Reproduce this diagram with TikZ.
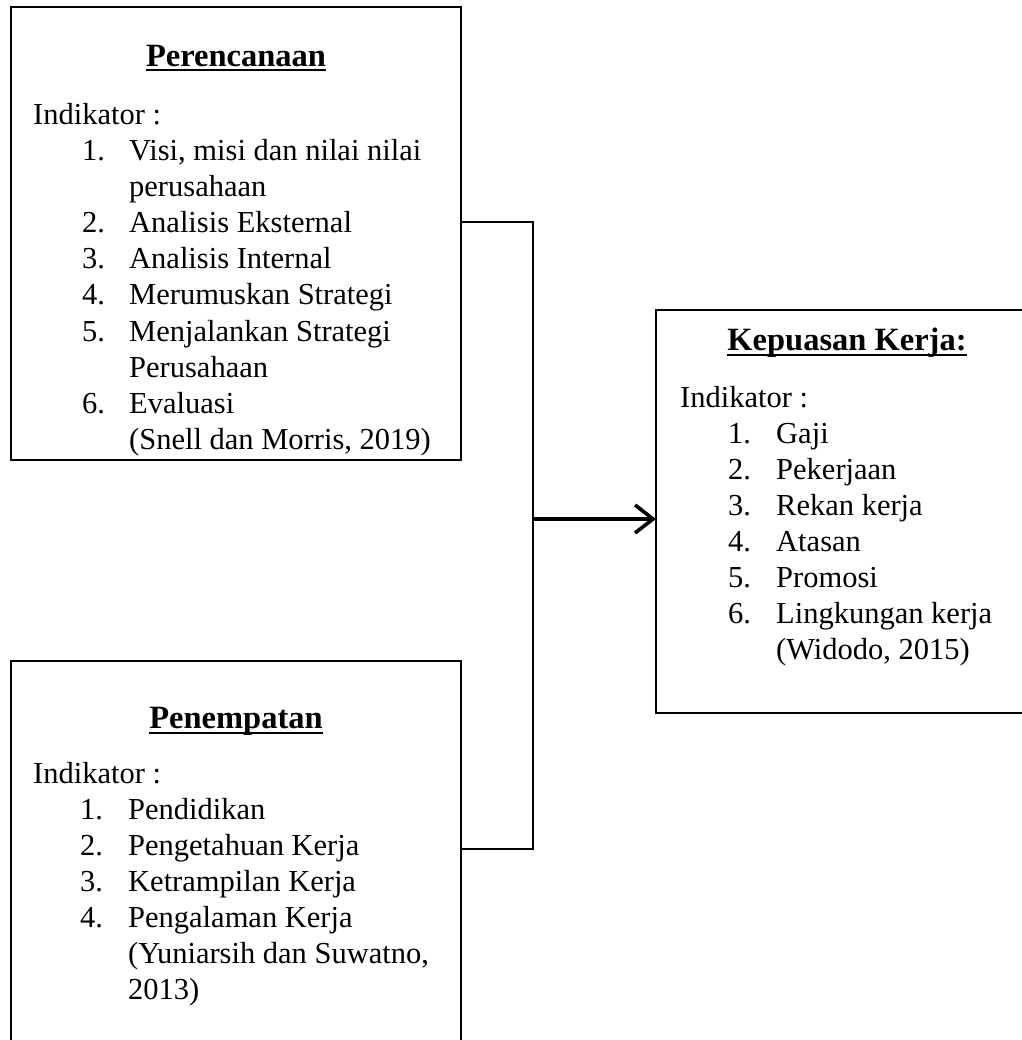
\documentclass[tikz,border=0pt]{standalone}
\usepackage{fontspec}
\setmainfont{Liberation Serif}
\usetikzlibrary{arrows.meta}
\newcommand{\bodyfnt}{\fontsize{30.5}{36}\selectfont}
\newcommand{\titlefnt}{\fontsize{32.5}{36}\selectfont\bfseries}
\tikzset{
  boxnode/.style={draw, line width=2.4pt, anchor=north west, inner sep=0pt, outer sep=0pt},
  lbl/.style={anchor=base west, inner sep=0pt, font=\bodyfnt},
  ttl/.style={anchor=base, inner sep=0pt, font=\titlefnt},
  uline/.style={line width=1.7pt},
  conn/.style={line width=2pt},
  arrowline/.style={line width=3.6pt, -{Straight Barb[length=18pt,width=28pt]}}
}
\begin{document}
\begin{tikzpicture}[x=1pt,y=-1pt]
\useasboundingbox (0,0) rectangle (1021,1040);
% boxes
\node[boxnode, minimum width=450pt, minimum height=453pt] (b1) at (11,7) {};
\node[boxnode, minimum width=450pt, minimum height=430pt] (b2) at (11,661) {};
\node[boxnode, minimum width=382pt, minimum height=403pt] (b3) at (656,310) {};
% titles
\node[ttl] (t1) at (236,67) {Perencanaan};
\draw[uline] ([yshift=-3pt]t1.base west) -- ([yshift=-3pt]t1.base east);
\node[ttl] (t2) at (236,728) {Penempatan};
\draw[uline] ([yshift=-5pt]t2.base west) -- ([yshift=-5pt]t2.base east);
\node[ttl] (t3) at (847,350) {Kepuasan Kerja:};
\draw[uline] ([yshift=-5pt]t3.base west) -- ([yshift=-5pt]t3.base east);
% box 1 text
\node[lbl] (a-ind) at (33,125) {Indikator :};
\foreach \yy/\nn/\tt in {161/1./{Visi, misi dan nilai nilai},197//perusahaan,233/2./Analisis Eksternal,269/3./Analisis Internal,305/4./Merumuskan Strategi,341/5./Menjalankan Strategi,377//Perusahaan,413/6./Evaluasi,449//{(Snell dan Morris, 2019)}}{
  \node[lbl] (a-n\yy) at (82,\yy) {\nn};
  \node[lbl] (a-t\yy) at (129,\yy) {\tt};
}
% box 2 text
\node[lbl] (b-ind) at (33,783) {Indikator :};
\foreach \yy/\nn/\tt in {819/1./Pendidikan,855/2./Pengetahuan Kerja,891/3./Ketrampilan Kerja,927/4./Pengalaman Kerja,963//{(Yuniarsih dan Suwatno,},999//2013)}{
  \node[lbl] (b-n\yy) at (80,\yy) {\nn};
  \node[lbl] (b-t\yy) at (128,\yy) {\tt};
}
% box 3 text
\node[lbl] (c-ind) at (680,407) {Indikator :};
\foreach \yy/\nn/\tt in {443/1./Gaji,479/2./Pekerjaan,515/3./Rekan kerja,551/4./Atasan,587/5./Promosi,623/6./Lingkungan kerja,659//{(Widodo, 2015)}}{
  \node[lbl] (c-n\yy) at (728,\yy) {\nn};
  \node[lbl] (c-t\yy) at (776,\yy) {\tt};
}
% connectors
\coordinate (j1) at (533,222);
\coordinate (j2) at (533,849);
\coordinate (j3) at (533,519);
\draw[conn] (b1.east |- j1) -- (j1) -- (j2) -- (b2.east |- j2);
\draw[arrowline] (j3) -- (b3.west |- j3);
\end{tikzpicture}
\end{document}
